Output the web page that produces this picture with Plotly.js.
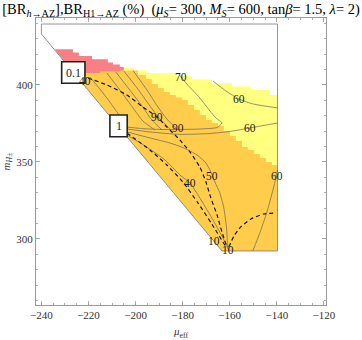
<!DOCTYPE html>
<html>
<head>
<meta charset="utf-8">
<script src="https://cdn.plot.ly/plotly-3.0.1.min.js"></script>
<style>html,body{margin:0;padding:0;background:#fff;}#chart{width:362px;height:340px;}</style>
</head>
<body>
<div id="chart"></div>
<script>
// ---- region outline (mu_eff, m_H+-) ----
const regionX = [-240, -139.7, -139.7, -163.3, -240, -240];
const regionY = [439.6, 439.6, 292.2, 292.2, 433.1, 439.6];

// ---- pink region top staircase ----
const pinkTopX = [-234.4, -226.6, -224.1, -218.5, -211.8, -209.6, -206.7, -205.0];
const pinkTopY = [423.2, 421.1, 418.8, 416.7, 414.6, 413.3, 411.7, 409.1];
const pinkBotX = [-205.0, -225.3];
const pinkBotY = [407.5, 406.0];

// ---- yellow region top staircase ----
const yelTopX = [-205.0, -200.7, -195.2, -182.9, -176.1, -167.6, -159.1, -151.0, -142.9, -139.7];
const yelTopY = [411.0, 409.4, 407.8, 405.8, 403.6, 401.3, 399.0, 396.8, 393.5, 393.5];
const yelLeftX = [-226.2, -205.0];
const yelLeftY = [407.8, 407.8];

// ---- orange region: top-left edge and orange/yellow boundary ----
const oraTopX = [-225.5, -221.1, -221.1, -215.2, -215.2, -206.7, -206.7];
const oraTopY = [406.5, 406.5, 407.8, 407.8, 408.8, 408.8, 409.4];
const oyX = [-199.0, -195.6, -193.1, -190.5, -188.0, -185.4, -182.9, -180.3, -177.8, -175.2, -172.7, -170.1, -167.6, -165.0, -162.5, -159.9, -157.4, -154.8, -152.3, -149.7, -147.2, -144.6, -142.1, -139.7];
const oyY = [409.4, 406.5, 403.9, 400.6, 398.1, 395.5, 393.5, 391.9, 390.3, 387.0, 383.8, 380.5, 377.3, 375.3, 373.4, 370.1, 366.9, 363.6, 359.7, 357.8, 355.2, 352.6, 350.0, 348.0];

// ---- solid contour lines ----
const c70X = [-182.0, -180.7, -178.2, -172.7, -168.4, -165.9, -163.3, -165.4, -172.7, -181.2, -189.7, -198.2, -203.7];
const c70Y = [407.8, 405.2, 400.6, 391.6, 383.1, 378.6, 375.3, 372.4, 371.4, 371.1, 371.1, 371.8, 372.7];
const c60aX = [-167.1, -161.6, -156.1, -150.2, -139.7];
const c60aY = [402.6, 396.1, 390.9, 387.7, 385.1];
const c60bX = [-203.7, -193.9, -181.2, -168.4, -159.9, -151.4, -139.7];
const c60bY = [371.4, 369.5, 367.9, 368.5, 369.8, 372.1, 375.3];
const c50X = [-203.7, -193.9, -185.4, -179.5, -173.9, -170.1, -168.0, -166.3, -164.2, -162.5, -161.4, -160.8, -160.4];
const c50Y = [369.5, 365.6, 362.3, 359.1, 354.5, 349.3, 343.5, 337.0, 329.9, 320.1, 307.8, 294.8, 292.2];
const c40X = [-203.7, -196.0, -187.5, -181.2, -176.9, -172.7, -167.6, -163.3, -160.4];
const c40Y = [367.5, 360.4, 351.3, 341.6, 336.4, 326.6, 313.6, 301.9, 292.8];
const c60cX = [-139.7, -141.2, -144.2, -147.2, -150.2];
const c60cY = [344.8, 334.4, 317.5, 303.9, 292.2];
const f1X = [-219.4, -213.5, -207.9, -203.7];
const f1Y = [405.2, 394.2, 382.5, 372.7];
const f2X = [-212.2, -206.7, -201.1, -196.9, -191.8];
const f2Y = [407.8, 396.8, 385.1, 376.6, 370.8];
const f3X = [-208.4, -202.8, -197.3, -193.1, -188.8];
const f3Y = [408.4, 397.4, 386.4, 377.3, 370.8];
const f4X = [-205.0, -199.4, -193.9, -189.7, -185.4];
const f4Y = [409.1, 398.1, 386.4, 377.9, 371.4];
const f5X = [-201.1, -195.2, -190.5, -186.7, -182.9];
const f5Y = [409.4, 396.8, 385.7, 377.9, 372.1];

// ---- dashed contour lines ----
const d1X = [-220.2, -212.2, -203.7, -196.9, -190.9, -186.7, -181.2, -176.9, -172.7, -170.1, -168.0, -165.4, -163.3, -161.2];
const d1Y = [404.5, 400.0, 393.5, 385.7, 379.2, 372.7, 364.3, 356.5, 346.7, 337.0, 326.6, 315.6, 304.5, 294.8];
const d2X = [-203.7, -193.9, -186.7, -179.9, -173.5, -167.6, -161.6];
const d2Y = [368.8, 357.8, 348.0, 337.0, 323.4, 309.7, 294.8];
const d3X = [-160.4, -158.2, -155.3, -151.0, -145.5, -140.4];
const d3Y = [294.8, 301.9, 307.8, 313.0, 316.2, 316.9];

// ---- contour labels ----
const labelText = ['40', '70', '60', '60', '90', '90', '50', '40', '60', '10', '10'];
const labelX = [-221.6, -180.7, -156.1, -151.4, -190.9, -182.0, -167.6, -176.9, -140.0, -166.7, -160.8];
const labelY = [402.8, 405.2, 390.9, 372.1, 379.2, 372.1, 340.9, 336.4, 340.9, 298.7, 292.8];

// ---- boxed labels ----
const boxText = ['0.1', '1'];
const boxX0 = [-231.4, -210.9];
const boxX1 = [-221.5, -203.55];
const boxY0 = [401.1, 366.4];
const boxY1 = [415.1, 380.5];

const xTicks = [-240, -220, -200, -180, -160, -140, -120];
const yTicks = [300, 350, 400];

function stairsHV(xs, ys) {
  const X = [], Y = [];
  for (let i = 0; i < xs.length; i++) {
    X.push(xs[i]); Y.push(ys[i]);
    if (i < xs.length - 1) { X.push(xs[i + 1]); Y.push(ys[i]); }
  }
  return [X, Y];
}
function stairsVH(xs, ys) {
  const X = [], Y = [];
  for (let i = 0; i < xs.length; i++) {
    X.push(xs[i]); Y.push(ys[i]);
    if (i < xs.length - 1) { X.push(xs[i]); Y.push(ys[i + 1]); }
  }
  return [X, Y];
}

const traces = [];
function fillTrace(X, Y, color) {
  traces.push({x: X.concat([X[0]]), y: Y.concat([Y[0]]), mode: 'lines', fill: 'toself',
    fillcolor: color, line: {width: 0, color: color}, hoverinfo: 'skip'});
}

// yellow
{
  const [sx, sy] = stairsHV(yelTopX, yelTopY);
  const X = yelLeftX.concat(sx, [regionX[2], regionX[3]]);
  const Y = yelLeftY.concat(sy, [regionY[2], regionY[3]]);
  fillTrace(X, Y, 'rgb(255,255,128)');
}
// pink
{
  const [sx, sy] = stairsHV(pinkTopX, pinkTopY);
  fillTrace(sx.concat(pinkBotX), sy.concat(pinkBotY), 'rgb(246,128,132)');
}
// orange
{
  const [sx, sy] = stairsVH(oyX, oyY);
  const X = oraTopX.concat(sx, [regionX[2], regionX[3]]);
  const Y = oraTopY.concat(sy, [regionY[2], regionY[3]]);
  fillTrace(X, Y, 'rgb(255,204,76)');
}
// outline
traces.push({x: regionX, y: regionY, mode: 'lines', line: {color: 'rgb(120,120,120)', width: 0.8}, hoverinfo: 'skip'});

const solid = [[c70X, c70Y], [c60aX, c60aY], [c60bX, c60bY], [c50X, c50Y], [c40X, c40Y], [c60cX, c60cY],
  [f1X, f1Y], [f2X, f2Y], [f3X, f3Y], [f4X, f4Y], [f5X, f5Y]];
solid.forEach(([X, Y]) => traces.push({x: X, y: Y, mode: 'lines', line: {color: 'rgba(95,95,95,0.75)', width: 0.9, shape: 'spline', smoothing: 0.6}, hoverinfo: 'skip'}));

const dashed = [[d1X, d1Y], [d2X, d2Y], [d3X, d3Y]];
dashed.forEach(([X, Y]) => traces.push({x: X, y: Y, mode: 'lines', line: {color: 'rgb(20,20,20)', width: 1.2, dash: '4px,3px', shape: 'spline', smoothing: 0.6}, hoverinfo: 'skip'}));

const serif = 'Liberation Serif, Times New Roman, serif';
const annotations = labelText.map((t, i) => ({x: labelX[i], y: labelY[i], text: t, showarrow: false,
  font: {family: serif, size: 11.5, color: '#222'}, xanchor: 'center', yanchor: 'middle'}));
const shapes = [];
boxText.forEach((t, i) => {
  shapes.push({type: 'rect', xref: 'x', yref: 'y', x0: boxX0[i], x1: boxX1[i], y0: boxY0[i], y1: boxY1[i],
    line: {color: '#222', width: 1.6}, fillcolor: 'white', layer: 'above'});
  annotations.push({x: (boxX0[i] + boxX1[i]) / 2, y: (boxY0[i] + boxY1[i]) / 2, text: t, showarrow: false,
    font: {family: serif, size: 12, color: '#222'}, xanchor: 'center', yanchor: 'middle'});
});

const axisCommon = {
  ticks: 'inside', ticklen: 4, tickcolor: '#999', tickwidth: 0.8,
  showline: true, linecolor: '#999', linewidth: 1, mirror: 'ticks',
  showgrid: false, zeroline: false,
  tickfont: {family: serif, size: 11, color: '#333'}
};

const layout = {
  width: 362, height: 340,
  margin: {l: 36, r: 36, t: 18, b: 35},
  paper_bgcolor: 'white', plot_bgcolor: 'white',
  showlegend: false,
  title: {
    text: '[BR<sub><i>h</i>→AZ</sub>],BR<sub>H1→AZ</sub> (%)\u00a0 (<i>μ<sub>S</sub></i>= 300, <i>M<sub>S</sub></i>= 600, tan<i>β</i>= 1.5, <i>λ</i>= 2)',
    font: {family: serif, size: 14.5, color: '#000'},
    x: 0.5, xref: 'container', xanchor: 'center',
    y: 0.975, yref: 'container', yanchor: 'middle'
  },
  xaxis: Object.assign({}, axisCommon, {
    range: [-242.3, -119.1], tickvals: xTicks,
    minor: {dtick: 5, tick0: -240, ticks: 'inside', ticklen: 2, tickcolor: '#999', tickwidth: 0.8},
    title: {text: '<i>μ</i><sub>eff</sub>', font: {family: serif, size: 11, color: '#333'}, standoff: 7}
  }),
  yaxis: Object.assign({}, axisCommon, {
    range: [257.1, 443.5], tickvals: yTicks,
    minor: {dtick: 10, tick0: 300, ticks: 'inside', ticklen: 2, tickcolor: '#999', tickwidth: 0.8},
    title: {text: '<i>m</i><sub><i>H</i>±</sub>', font: {family: serif, size: 11, color: '#333'}, standoff: 3}
  }),
  annotations: annotations,
  shapes: shapes
};

Plotly.newPlot('chart', traces, layout, {staticPlot: true, displayModeBar: false});
</script>
</body>
</html>
